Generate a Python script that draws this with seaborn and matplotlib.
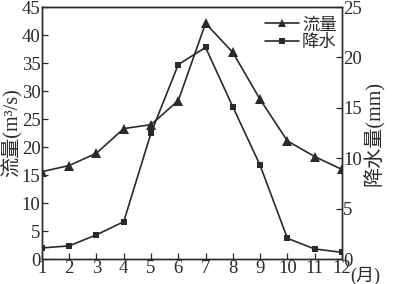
import matplotlib
matplotlib.use("Agg")
import matplotlib.pyplot as plt
import seaborn as sns
import pandas as pd

months = [1, 2, 3, 4, 5, 6, 7, 8, 9, 10, 11, 12]
flow = [15.6, 16.7, 18.9, 23.3, 24.0, 28.3, 42.1, 36.9, 28.5, 21.1, 18.3, 16.0]
rain = [1.1, 1.3, 2.4, 3.7, 12.5, 19.3, 21.0, 15.1, 9.3, 2.05, 1.0, 0.66]
left_ticks = [0, 5, 10, 15, 20, 25, 30, 35, 40, 45]
right_ticks = [0, 5, 10, 15, 20, 25]

sns.set_theme(style="ticks")
plt.rcParams['font.family'] = ['Liberation Serif', 'Noto Sans CJK SC']
plt.rcParams['axes.unicode_minus'] = False

df = pd.DataFrame({"month": months, "flow": flow, "rain": rain})

fig = plt.figure(figsize=(3.99, 2.84), dpi=100)
ax = fig.add_axes([0.105, 0.088, 0.752, 0.887])
ax2 = ax.twinx()

c = "#2a2a2a"
sns.lineplot(data=df, x="month", y="flow", ax=ax, color=c, marker="^",
             markersize=6.5, linewidth=1.2, markeredgewidth=0, label="流量", legend=False)
sns.lineplot(data=df, x="month", y="rain", ax=ax2, color=c, marker="s",
             markersize=5, linewidth=1.2, markeredgewidth=0, label="降水", legend=False)

ax.set_xlim(1, 12)
ax.set_ylim(0, 45)
ax2.set_ylim(0, 25)
ax.set_xticks(months)
ax.set_yticks(left_ticks)
ax2.set_yticks(right_ticks)
ax.set_xlabel("")
ax.set_ylabel("流量(m³/s)", fontsize=14.5, labelpad=-1, color=c)
ax2.set_ylabel("降水量(mm)", fontsize=14.5, labelpad=1, color=c)

for a in (ax, ax2):
    a.tick_params(direction="in", length=4, width=0.9, labelsize=13.5, pad=1, colors=c)
    for s in a.spines.values():
        s.set_linewidth(1.0)
        s.set_color(c)

ax.text(1.027, -0.068, "(月)", transform=ax.transAxes, ha="left", va="center",
        fontsize=13, color=c)

h1, l1 = ax.get_legend_handles_labels()
h2, l2 = ax2.get_legend_handles_labels()
leg = ax2.legend(h1 + h2, l1 + l2, loc="upper right", bbox_to_anchor=(1.0, 0.98),
                 frameon=False, fontsize=12.5, markerscale=0.8,
                 handlelength=2.0, handletextpad=0.15, borderaxespad=0.0,
                 borderpad=0.3, labelspacing=0.1)
for t in leg.get_texts():
    t.set_color(c)

fig.savefig("out.png", dpi=100)
